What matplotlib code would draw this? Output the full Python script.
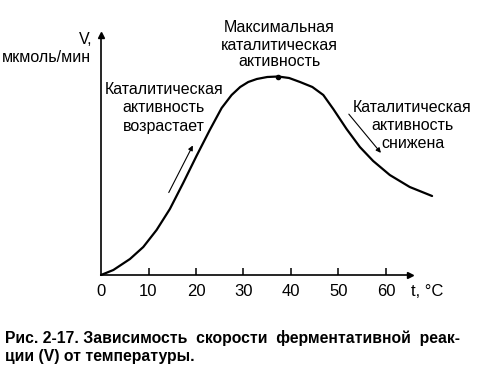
import matplotlib
matplotlib.use("Agg")
import matplotlib.pyplot as plt

plt.rcParams['font.family'] = ['Liberation Sans', 'DejaVu Sans']

# Data
temp_c = [0, 2.6, 6.1, 8.9, 11.7, 14.5, 17.3, 20.1, 22.9, 25.4, 27.5, 29.3, 31.0, 32.8,
          35.0, 37.3, 39.6, 41.9, 44.5, 46.8, 48.9, 51.7, 54.5, 57.3, 60.8, 65.0, 69.7]
rate_v = [0, 5, 16, 28, 45, 66, 92, 119, 145, 167, 180, 188, 193, 196,
          198, 198.5, 197, 193, 188, 180, 166, 146, 128, 114, 100, 88, 79]
peak_t = [37.3]
peak_v = [198.5]
x_ticks = [0, 10, 20, 30, 40, 50, 60]
x_tick_labels = ["0", "10", "20", "30", "40", "50", "60"]

W, H = 489, 374
fig = plt.figure(figsize=(W / 100, H / 100), dpi=100)

# axes placement in pixels: origin at (101, 275), 4.75 px per degree, 1 px per V unit
x0, y0 = 101, 275
xmax, ymax = 65, 240
ax = fig.add_axes([x0 / W, (H - y0) / H, xmax * 4.75 / W, ymax / H])
ax.set_xlim(0, xmax)
ax.set_ylim(0, ymax)
for s in ("top", "right"):
    ax.spines[s].set_visible(False)
for s in ("left", "bottom"):
    ax.spines[s].set_linewidth(1.2)
ax.plot(1, 0, ">k", transform=ax.transAxes, clip_on=False, markersize=5)
ax.plot(0, 1, "^k", transform=ax.transAxes, clip_on=False, markersize=5)

ax.set_yticks([])
ax.set_xticks(x_ticks[1:])
ax.set_xticklabels([])
ax.tick_params(axis="x", direction="in", length=5, width=1.1)
for t, lab in zip(x_ticks, x_tick_labels):
    ax.text(t, -17, lab, ha="center", va="center", fontsize=12)
ax.text(65.3, -17, "t, °C", ha="left", va="center", fontsize=12)

ax.plot(temp_c, rate_v, color="black", lw=1.6, clip_on=False,
        solid_joinstyle="round", solid_capstyle="round")
ax.plot(peak_t, peak_v, "o", color="black", markersize=3)

# axis label
ax.text(-1.9, 235, "V,", ha="right", va="center", fontsize=11.5)
ax.text(-2.1, 217, "мкмоль/мин", ha="right", va="center", fontsize=11.5)

def block(tc, vs, lines):
    for v, line in zip(vs, lines):
        ax.text(tc, v, line, ha="center", va="center", fontsize=11.5)

block(37.5, [248, 230, 213], ["Максимальная", "каталитическая", "активность"])
block(13.2, [185, 167, 149], ["Каталитическая", "активность", "возрастает"])
block(65.6, [167, 149, 131], ["Каталитическая", "активность", "снижена"])

# small arrows along curve
ax.annotate("", xy=(19.6, 132), xytext=(14.0, 80),
            arrowprops=dict(arrowstyle="-|>", color="black", lw=0.8, mutation_scale=7))
ax.annotate("", xy=(59.3, 120), xytext=(51.8, 163),
            arrowprops=dict(arrowstyle="-|>", color="black", lw=0.8, mutation_scale=7))

fig.text(5 / W, 1 - 338 / H, "Рис. 2-17. Зависимость  скорости  ферментативной  реак-",
         ha="left", va="center", fontsize=11.3, fontweight="bold")
fig.text(5 / W, 1 - 357 / H, "ции (V) от температуры.",
         ha="left", va="center", fontsize=11.3, fontweight="bold")

fig.savefig("out.png", dpi=100)
